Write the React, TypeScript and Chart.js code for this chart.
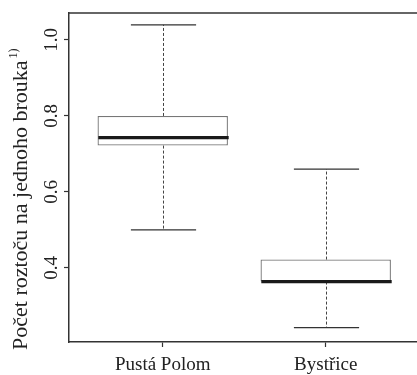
import React, { useEffect, useRef } from 'react';
import { Chart, registerables } from 'chart.js';

Chart.register(...registerables);

const categories = ['Pustá Polom', 'Bystřice'];
const positions = [1, 2];
const whiskerLow = [0.5, 0.243];
const q1 = [0.722, 0.364];
const median = [0.743, 0.364];
const q3 = [0.8, 0.422];
const whiskerHigh = [1.04, 0.66];
const yTicks = [0.4, 0.6, 0.8, 1.0];
const yTitle = 'Počet roztoču na jednoho brouka';
const yTitleNote = '1)';

const FONT = '"Liberation Serif", "Times New Roman", serif';

const boxPlugin = {
  id: 'boxExtras',
  afterDatasetsDraw(chart: any) {
    const ctx = chart.ctx;
    const xs = chart.scales.x;
    const ys = chart.scales.y;
    const meta = chart.getDatasetMeta(0);
    ctx.save();
    positions.forEach((p, i) => {
      const bar = meta.data[i];
      const half = bar.width / 2;
      const cx = Math.round(xs.getPixelForValue(p)) + 0.5;
      const yLo = ys.getPixelForValue(whiskerLow[i]);
      const yHi = ys.getPixelForValue(whiskerHigh[i]);
      const yQ1 = ys.getPixelForValue(q1[i]);
      const yQ3 = ys.getPixelForValue(q3[i]);
      const yMed = ys.getPixelForValue(median[i]);
      ctx.strokeStyle = '#444';
      ctx.lineWidth = 1;
      ctx.setLineDash([3, 2]);
      ctx.beginPath();
      ctx.moveTo(cx, yQ3);
      ctx.lineTo(cx, yHi);
      ctx.moveTo(cx, yQ1);
      ctx.lineTo(cx, yLo);
      ctx.stroke();
      ctx.setLineDash([]);
      ctx.strokeStyle = '#333';
      ctx.lineWidth = 1.3;
      ctx.beginPath();
      ctx.moveTo(cx - half / 2, yHi);
      ctx.lineTo(cx + half / 2, yHi);
      ctx.moveTo(cx - half / 2, yLo);
      ctx.lineTo(cx + half / 2, yLo);
      ctx.stroke();
      ctx.strokeStyle = '#1a1a1a';
      ctx.lineWidth = 3.2;
      ctx.beginPath();
      ctx.moveTo(cx - half, yMed);
      ctx.lineTo(cx + half, yMed);
      ctx.stroke();
    });
    const a = chart.chartArea;
    ctx.strokeStyle = '#333';
    ctx.lineWidth = 1.5;
    ctx.beginPath();
    ctx.moveTo(a.left, a.top);
    ctx.lineTo(a.right, a.top);
    ctx.stroke();
    ctx.restore();
  },
  afterDraw(chart: any) {
    const ctx = chart.ctx;
    ctx.save();
    ctx.translate(27, 350);
    ctx.rotate(-Math.PI / 2);
    ctx.fillStyle = '#222';
    ctx.textAlign = 'left';
    ctx.textBaseline = 'alphabetic';
    ctx.font = `22px ${FONT}`;
    ctx.fillText(yTitle, 0, 0);
    const w = ctx.measureText(yTitle).width;
    ctx.font = `12px ${FONT}`;
    ctx.fillText(yTitleNote, w + 2, -10);
    ctx.restore();
  },
};

export default function App() {
  const ref = useRef<HTMLCanvasElement>(null);
  useEffect(() => {
    if (!ref.current) return;
    const gridOpts = {
      drawOnChartArea: false,
      drawTicks: true,
      tickLength: 5,
      color: '#333',
      tickWidth: 1.2,
      offset: false,
    };
    const borderOpts = { display: true, color: '#333', width: 1.5 };
    const chart = new Chart(ref.current, {
      type: 'bar',
      data: {
        datasets: [
          {
            data: positions.map((p, i) => ({ x: p, y: [q1[i], q3[i]] })) as any,
            backgroundColor: '#ffffff',
            borderColor: '#777',
            borderWidth: 1.3,
            borderSkipped: false,
            barPercentage: 0.8,
            categoryPercentage: 1,
          },
        ],
      },
      options: {
        animation: false,
        responsive: true,
        maintainAspectRatio: false,
        layout: { padding: { top: 13, right: 0, bottom: 0, left: 0 } },
        plugins: { legend: { display: false }, tooltip: { enabled: false }, title: { display: false } },
        scales: {
          x: {
            type: 'linear',
            offset: false,
            min: 0.425,
            max: 2.56,
            afterBuildTicks: (s: any) => {
              s.ticks = positions.map((v) => ({ value: v }));
            },
            afterFit: (s: any) => {
              s.height = 33;
            },
            ticks: {
              autoSkip: false,
              maxRotation: 0,
              callback: (v: any) => categories[positions.indexOf(Number(v))] ?? '',
              font: { family: FONT, size: 19 },
              color: '#222',
              padding: 7,
            },
            grid: gridOpts,
            border: borderOpts,
          },
          y: {
            type: 'linear',
            min: 0.205,
            max: 1.071,
            afterBuildTicks: (s: any) => {
              s.ticks = yTicks.map((v) => ({ value: v }));
            },
            afterFit: (s: any) => {
              s.width = 69;
            },
            ticks: {
              autoSkip: false,
              minRotation: 90,
              maxRotation: 90,
              crossAlign: 'center',
              callback: (v: any) => Number(v).toFixed(1),
              font: { family: FONT, size: 19 },
              color: '#222',
              padding: 0,
            },
            grid: gridOpts,
            border: borderOpts,
          },
        },
      } as any,
      plugins: [boxPlugin],
    });
    return () => chart.destroy();
  }, []);
  return (
    <div style={{ position: 'absolute', left: 0, top: 0, width: 417, height: 375 }}>
      <canvas ref={ref} />
    </div>
  );
}
